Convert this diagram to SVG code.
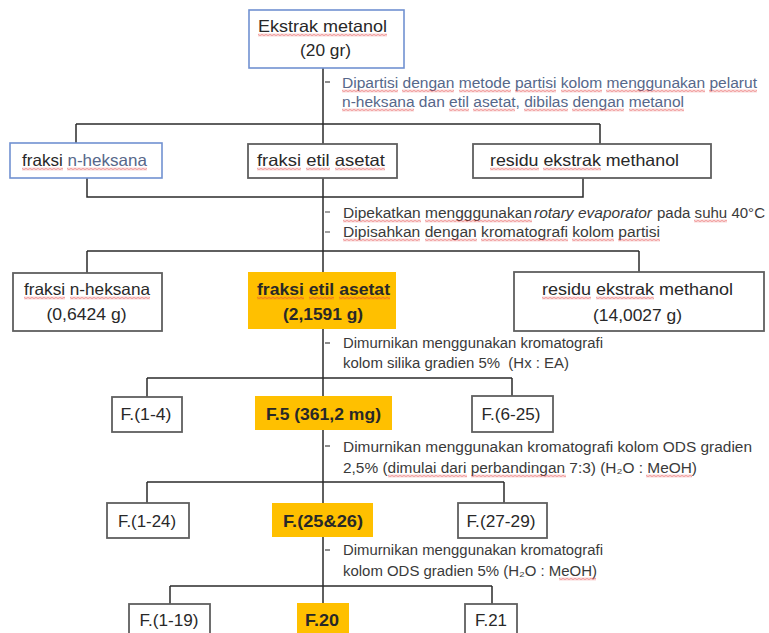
<svg xmlns="http://www.w3.org/2000/svg" width="769" height="633" viewBox="0 0 769 633">
<defs>
<pattern id="sq" patternUnits="userSpaceOnUse" width="4" height="3">
<path d="M0 0.6 L2 2.4 L4 0.6" fill="none" stroke="#e23b3b" stroke-width="0.9"/>
</pattern>
<style>
.box{fill:#fff;stroke:#5f5f5f;stroke-width:1.8}
.blue{fill:#fff;stroke:#7191d1;stroke-width:1.6}
.hl{fill:#ffc000}
.t{font-family:"Liberation Sans",Arial,sans-serif;font-size:16.5px;fill:#282828}
.b{font-weight:bold}
.m{text-anchor:middle}
.a{font-family:"Liberation Sans",Arial,sans-serif;font-size:14px;fill:#3a3a3a}
.a1{fill:#56678a}
.c{fill:none;stroke:#2b2b2b;stroke-width:1.5}
.d{fill:none;stroke:#404040;stroke-width:1.2}
.sq{fill:url(#sq)}
</style>
</defs>
<rect width="769" height="633" fill="#fff"/>

<g id="connectors">
<path class="c" d="M323 68 V145 M76 124 H600 M76 124 V143 M600 124 V144"/>
<path class="c" d="M87 178 V197 H583 V178 M323 178 V272 M87 251 H639 M87 251 V273 M639 251 V272"/>
<path class="c" d="M323 329 V397 M147 378 H512 M147 378 V397 M512 378 V396"/>
<path class="c" d="M323 430 V503 M147 482 H504 M147 482 V503 M504 482 V503"/>
<path class="c" d="M323 537 V604 M170 586 H492 M170 586 V604 M492 586 V604"/>
</g>

<g id="note1">
<path class="d" d="M325 82 H330"/>
<text class="a a1" x="342" y="88" textLength="415" lengthAdjust="spacingAndGlyphs">Dipartisi dengan metode partisi kolom menggunakan pelarut</text>
<text class="a a1" x="342" y="107" textLength="342" lengthAdjust="spacingAndGlyphs">n-heksana dan etil asetat, dibilas dengan metanol</text>
<rect class="sq" transform="translate(342 89.5)" width="56" height="3"/>
<rect class="sq" transform="translate(402 89.5)" width="52" height="3"/>
<rect class="sq" transform="translate(459 89.5)" width="52" height="3"/>
<rect class="sq" transform="translate(515 89.5)" width="41" height="3"/>
<rect class="sq" transform="translate(561 89.5)" width="41" height="3"/>
<rect class="sq" transform="translate(606 89.5)" width="99" height="3"/>
<rect class="sq" transform="translate(709 89.5)" width="48" height="3"/>
<rect class="sq" transform="translate(342 108.5)" width="72" height="3"/>
<rect class="sq" transform="translate(449 108.5)" width="20" height="3"/>
<rect class="sq" transform="translate(473 108.5)" width="42" height="3"/>
<rect class="sq" transform="translate(524 108.5)" width="44" height="3"/>
<rect class="sq" transform="translate(572 108.5)" width="52" height="3"/>
<rect class="sq" transform="translate(629 108.5)" width="55" height="3"/>
</g>

<g id="note2">
<path class="d" d="M325 212 H330 M325 232 H330"/>
<text class="a" x="343" y="218" textLength="189" lengthAdjust="spacingAndGlyphs">Dipekatkan mengggunakan</text>
<text class="a" x="534" y="218" textLength="118" lengthAdjust="spacingAndGlyphs" font-style="italic">rotary evaporator</text>
<text class="a" x="657" y="218" textLength="108" lengthAdjust="spacingAndGlyphs">pada suhu 40°C</text>
<text class="a" x="343" y="237" textLength="317" lengthAdjust="spacingAndGlyphs">Dipisahkan dengan kromatografi kolom partisi</text>
<rect class="sq" transform="translate(343 219.5)" width="78" height="3"/>
<rect class="sq" transform="translate(425 219.5)" width="107" height="3"/>
<rect class="sq" transform="translate(694 219.5)" width="33" height="3"/>
<rect class="sq" transform="translate(343 238.5)" width="77" height="3"/>
<rect class="sq" transform="translate(425 238.5)" width="52" height="3"/>
<rect class="sq" transform="translate(481 238.5)" width="87" height="3"/>
<rect class="sq" transform="translate(572 238.5)" width="42" height="3"/>
<rect class="sq" transform="translate(618 238.5)" width="42" height="3"/>
</g>

<g id="note3">
<path class="d" d="M325 343 H330"/>
<text class="a" x="343" y="348" textLength="260" lengthAdjust="spacingAndGlyphs">Dimurnikan menggunakan kromatografi</text>
<text class="a" x="343" y="368" textLength="226" lengthAdjust="spacingAndGlyphs">kolom silika gradien 5%&#160; (Hx : EA)</text>
</g>

<g id="note4">
<path class="d" d="M325 446 H330"/>
<text class="a" x="343" y="452" textLength="409" lengthAdjust="spacingAndGlyphs">Dimurnikan menggunakan kromatografi kolom ODS gradien</text>
<text class="a" x="343" y="473" textLength="354" lengthAdjust="spacingAndGlyphs">2,5% (dimulai dari perbandingan 7:3) (H₂O : MeOH)</text>
<rect class="sq" transform="translate(388 474.5)" width="79" height="3"/>
<rect class="sq" transform="translate(471 474.5)" width="95" height="3"/>
<rect class="sq" transform="translate(646 474.5)" width="46" height="3"/>
</g>

<g id="note5">
<path class="d" d="M325 550 H330"/>
<text class="a" x="343" y="555" textLength="260" lengthAdjust="spacingAndGlyphs">Dimurnikan menggunakan kromatografi</text>
<text class="a" x="343" y="576" textLength="254" lengthAdjust="spacingAndGlyphs">kolom ODS gradien 5% (H₂O : MeOH)</text>
<rect class="sq" transform="translate(559 577.5)" width="37" height="3"/>
</g>

<g id="ekstrak-metanol">
<rect class="blue" x="249" y="10" width="155" height="58"/>
<text class="t m" x="322.5" y="32" textLength="129" lengthAdjust="spacingAndGlyphs">Ekstrak metanol</text>
<text class="t m" x="325.5" y="56" textLength="51" lengthAdjust="spacingAndGlyphs">(20 gr)</text>
<rect class="sq" transform="translate(258 33.5)" width="129" height="3"/>
</g>

<g id="r2-heksana">
<rect class="blue" x="10" y="143" width="152" height="35"/>
<text class="t" x="22" y="166" textLength="125" lengthAdjust="spacingAndGlyphs">fraksi <tspan fill="#56678a">n-heksana</tspan></text>
<rect class="sq" transform="translate(22 167.5)" width="41" height="3"/>
<rect class="sq" transform="translate(67 167.5)" width="80" height="3"/>
</g>

<g id="r2-etil">
<rect class="box" x="248" y="144" width="149" height="34"/>
<text class="t" x="257" y="166" textLength="128" lengthAdjust="spacingAndGlyphs">fraksi etil asetat</text>
<rect class="sq" transform="translate(257 167.5)" width="44" height="3"/>
<rect class="sq" transform="translate(306 167.5)" width="24" height="3"/>
<rect class="sq" transform="translate(335 167.5)" width="50" height="3"/>
</g>

<g id="r2-residu">
<rect class="box" x="473" y="144" width="238" height="34"/>
<text class="t" x="490" y="166" textLength="189" lengthAdjust="spacingAndGlyphs">residu ekstrak methanol</text>
<rect class="sq" transform="translate(490 167.5)" width="49" height="3"/>
<rect class="sq" transform="translate(543 167.5)" width="58" height="3"/>
</g>

<g id="r3-heksana">
<rect class="box" x="13" y="273" width="149" height="58"/>
<text class="t" x="24" y="295" textLength="126" lengthAdjust="spacingAndGlyphs">fraksi n-heksana</text>
<text class="t m" x="86.5" y="320" textLength="80" lengthAdjust="spacingAndGlyphs">(0,6424 g)</text>
<rect class="sq" transform="translate(24 296.5)" width="41" height="3"/>
<rect class="sq" transform="translate(70 296.5)" width="80" height="3"/>
</g>

<g id="r3-etil">
<rect class="hl" x="248" y="272" width="148" height="57"/>
<text class="t b" x="257" y="295" textLength="133" lengthAdjust="spacingAndGlyphs">fraksi etil asetat</text>
<text class="t b m" x="323" y="320" textLength="80" lengthAdjust="spacingAndGlyphs">(2,1591 g)</text>
<rect class="sq" transform="translate(257 296.5)" width="47" height="3"/>
<rect class="sq" transform="translate(309 296.5)" width="25" height="3"/>
<rect class="sq" transform="translate(339 296.5)" width="51" height="3"/>
</g>

<g id="r3-residu">
<rect class="box" x="514" y="272" width="250" height="59"/>
<text class="t m" x="637.5" y="295" textLength="191" lengthAdjust="spacingAndGlyphs">residu ekstrak methanol</text>
<text class="t m" x="637.5" y="321" textLength="89" lengthAdjust="spacingAndGlyphs">(14,0027 g)</text>
<rect class="sq" transform="translate(542 296.5)" width="49" height="3"/>
<rect class="sq" transform="translate(596 296.5)" width="58" height="3"/>
</g>

<g id="f1-4">
<rect class="box" x="112" y="397" width="70" height="35"/>
<text class="t m" x="146" y="420" textLength="51" lengthAdjust="spacingAndGlyphs">F.(1-4)</text>
</g>
<g id="f5">
<rect class="hl" x="255" y="396" width="137" height="34"/>
<text class="t b m" x="323.5" y="420" textLength="115" lengthAdjust="spacingAndGlyphs">F.5 (361,2 mg)</text>
</g>
<g id="f6-25">
<rect class="box" x="472" y="396" width="81" height="36"/>
<text class="t m" x="511" y="420" textLength="59" lengthAdjust="spacingAndGlyphs">F.(6-25)</text>
</g>

<g id="f1-24">
<rect class="box" x="107" y="503" width="82" height="35"/>
<text class="t m" x="147" y="527" textLength="58" lengthAdjust="spacingAndGlyphs">F.(1-24)</text>
</g>
<g id="f25-26">
<rect class="hl" x="272" y="503" width="101" height="34"/>
<text class="t b m" x="323" y="527" textLength="80" lengthAdjust="spacingAndGlyphs">F.(25&amp;26)</text>
</g>
<g id="f27-29">
<rect class="box" x="458" y="503" width="89" height="35"/>
<text class="t m" x="501" y="527" textLength="69" lengthAdjust="spacingAndGlyphs">F.(27-29)</text>
</g>

<g id="f1-19">
<rect class="box" x="129" y="604" width="81" height="40"/>
<text class="t m" x="169" y="626" textLength="59" lengthAdjust="spacingAndGlyphs">F.(1-19)</text>
</g>
<g id="f20">
<rect class="hl" x="297" y="603" width="52" height="40"/>
<text class="t b m" x="322" y="626" textLength="34" lengthAdjust="spacingAndGlyphs">F.20</text>
</g>
<g id="f21">
<rect class="box" x="465" y="604" width="52" height="40"/>
<text class="t m" x="491" y="626" textLength="32" lengthAdjust="spacingAndGlyphs">F.21</text>
</g>
</svg>
